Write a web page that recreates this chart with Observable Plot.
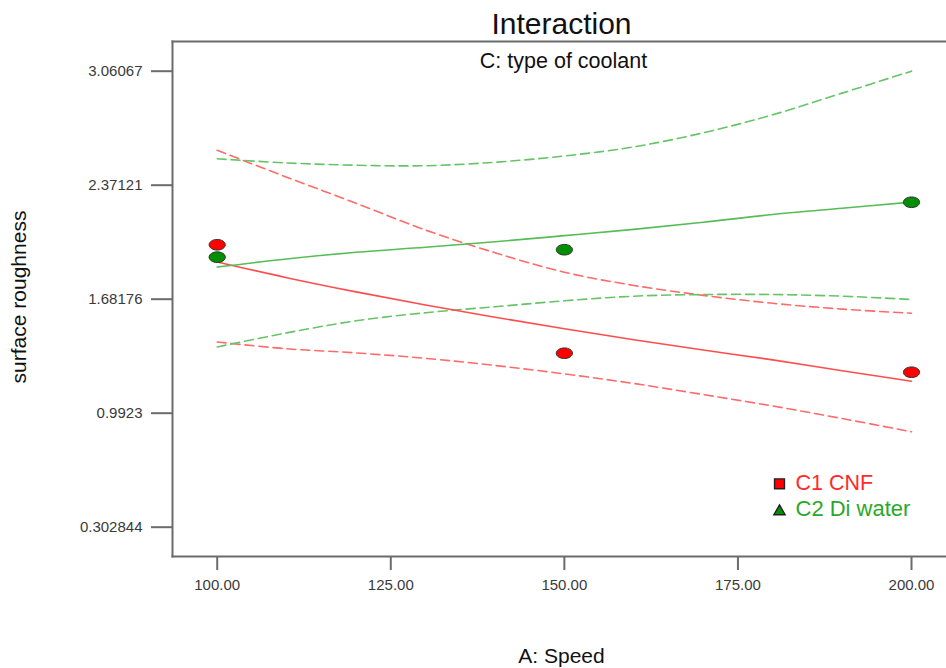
<!DOCTYPE html>
<html>
<head>
<meta charset="utf-8">
<script src="https://cdn.jsdelivr.net/npm/d3@7"></script>
<script src="https://cdn.jsdelivr.net/npm/@observablehq/plot@0.6"></script>
<style>
  html, body { margin: 0; padding: 0; background: #fff; }
  #chart { width: 946px; height: 668px; overflow: hidden; }
</style>
</head>
<body>
<div id="chart"></div>
<script>
// ---- data ----
const titleText = "Interaction";
const subtitleText = "C: type of coolant";
const xLabel = "A: Speed";
const yLabel = "surface roughness";
const series = ["C1 CNF", "C2 Di water"];

const xTickValues = [100, 125, 150, 175, 200];
const yTickValues = [3.06067, 2.37121, 1.68176, 0.9923, 0.302844];
const yTickLabels = ["3.06067", "2.37121", "1.68176", "0.9923", "0.302844"];

// predicted curves (sampled along speed)
const speedGrid = [100, 110, 120, 130, 140, 150, 160, 170, 180, 190, 200];
const cnfFit   = [1.907, 1.812, 1.726, 1.647, 1.573, 1.503, 1.436, 1.374, 1.315, 1.249, 1.186];
const cnfUpper = [2.582, 2.420, 2.262, 2.100, 1.963, 1.845, 1.765, 1.705, 1.657, 1.622, 1.597];
const cnfLower = [1.423, 1.382, 1.357, 1.324, 1.281, 1.230, 1.172, 1.105, 1.036, 0.960, 0.880];
const diFit    = [1.876, 1.925, 1.966, 1.996, 2.029, 2.066, 2.104, 2.147, 2.194, 2.232, 2.269];
const diUpper  = [2.531, 2.506, 2.492, 2.489, 2.510, 2.548, 2.603, 2.688, 2.797, 2.928, 3.061];
const diLower  = [1.393, 1.478, 1.551, 1.600, 1.636, 1.672, 1.700, 1.710, 1.710, 1.700, 1.680];

// design points (actual observations)
const designSpeeds = [100, 150, 200];
const cnfActual = [2.011, 1.355, 1.240];
const diActual  = [1.936, 1.981, 2.268];

// ---- styles ----
const FONT = "'Liberation Sans', Arial, Helvetica, sans-serif";
const RED_LINE = "#ff4d4d", RED_DASH = "#ff6b6b";
const GREEN_LINE = "#55bd55", GREEN_DASH = "#66c466";
const AXIS = "#6b6b6b";

const ellipse = {
  draw(ctx, size) {
    const r = Math.sqrt(size / Math.PI);
    const rx = r * 1.45, ry = r * 0.95, k = 0.5523;
    ctx.moveTo(rx, 0);
    ctx.bezierCurveTo(rx, ry * k, rx * k, ry, 0, ry);
    ctx.bezierCurveTo(-rx * k, ry, -rx, ry * k, -rx, 0);
    ctx.bezierCurveTo(-rx, -ry * k, -rx * k, -ry, 0, -ry);
    ctx.bezierCurveTo(rx * k, -ry, rx, -ry * k, rx, 0);
    ctx.closePath();
  }
};

const curve = (ys, stroke, dashed) => Plot.line(speedGrid, {
  x: d => d, y: (d, i) => ys[i], curve: "catmull-rom",
  stroke, strokeWidth: 1.6, strokeDasharray: dashed ? "9,5" : null
});

const chart = Plot.plot({
  width: 946,
  height: 668,
  marginLeft: 172,
  marginRight: 0,
  marginTop: 41,
  marginBottom: 112,
  style: {fontFamily: FONT, background: "#fff", overflow: "visible"},
  x: {domain: [93.56, 205.04], axis: null},
  y: {domain: [0.1256, 3.2403], axis: null},
  marks: [
    Plot.frame({anchor: "left", stroke: AXIS, strokeWidth: 2}),
    Plot.frame({anchor: "top", stroke: AXIS, strokeWidth: 2}),
    Plot.frame({anchor: "bottom", stroke: AXIS, strokeWidth: 2}),
    Plot.axisY(yTickValues, {
      anchor: "left", tickSize: 21, tickPadding: 9, fontSize: 15,
      stroke: AXIS, strokeWidth: 2, fill: "#3a3a3a", label: null,
      tickFormat: d => yTickLabels[yTickValues.indexOf(d)]
    }),
    Plot.axisX(xTickValues, {
      anchor: "bottom", tickSize: 14, tickPadding: 9, fontSize: 15,
      stroke: AXIS, strokeWidth: 2, fill: "#3a3a3a", label: null,
      tickFormat: d3.format(".2f")
    }),
    curve(cnfUpper, RED_DASH, true),
    curve(cnfLower, RED_DASH, true),
    curve(diUpper, GREEN_DASH, true),
    curve(diLower, GREEN_DASH, true),
    curve(cnfFit, RED_LINE, false),
    curve(diFit, GREEN_LINE, false),
    Plot.dot(designSpeeds, {x: d => d, y: (d, i) => cnfActual[i], symbol: ellipse, r: 5.6, fill: "#ff0000", stroke: "#333", strokeWidth: 1}),
    Plot.dot(designSpeeds, {x: d => d, y: (d, i) => diActual[i], symbol: ellipse, r: 5.6, fill: "#008f00", stroke: "#333", strokeWidth: 1}),
    // titles
    Plot.text([titleText], {text: d => d, frameAnchor: "top", dx: 2, dy: -17, lineAnchor: "middle", fontSize: 30, fill: "#111"}),
    Plot.text([subtitleText], {text: d => d, frameAnchor: "top", dx: 4, dy: 19.5, lineAnchor: "middle", fontSize: 21.5, fill: "#111"}),
    Plot.text([xLabel], {text: d => d, frameAnchor: "bottom", dx: 2, dy: 100, lineAnchor: "middle", fontSize: 21, fill: "#111"}),
    Plot.text([yLabel], {text: d => d, frameAnchor: "left", textAnchor: "middle", dx: -153, dy: -2, rotate: -90, lineAnchor: "middle", fontSize: 21, fill: "#111"}),
    // legend
    Plot.dot([series[0]], {frameAnchor: "bottom-right", dx: -167, dy: -72.7, symbol: "square", r: 5.6, fill: "#ff0000", stroke: "#222", strokeWidth: 1.4}),
    Plot.dot([series[1]], {frameAnchor: "bottom-right", dx: -167, dy: -45, symbol: "triangle", r: 4.2, fill: "#008f00", stroke: "#222", strokeWidth: 1.4}),
    Plot.text([series[0]], {text: d => d, frameAnchor: "bottom-right", textAnchor: "start", lineAnchor: "middle", dx: -151, dy: -73.4, fontSize: 21.5, fill: "#ff2a2a"}),
    Plot.text([series[1]], {text: d => d, frameAnchor: "bottom-right", textAnchor: "start", lineAnchor: "middle", dx: -151, dy: -48, fontSize: 22, fill: "#2aa82a"})
  ]
});
document.getElementById("chart").appendChild(chart);
</script>
</body>
</html>
